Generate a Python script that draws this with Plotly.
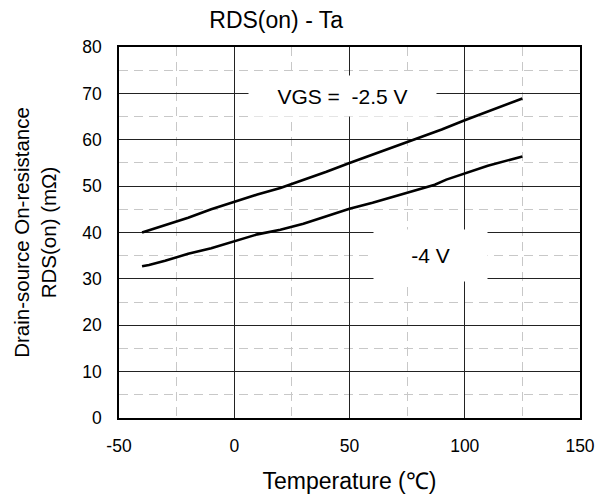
import plotly.graph_objects as go

temp_25 = [-40, -30, -20, -10, 0, 10, 20, 30, 40, 50, 60, 70, 80, 90, 100, 110, 125]
rds_25 = [40.0, 41.6, 43.2, 45.0, 46.6, 48.2, 49.6, 51.3, 53.1, 55.0, 56.8, 58.6, 60.4, 62.2, 64.2, 66.1, 68.9]

temp_4 = [-40, -37, -30, -20, -10, 0, 10, 20, 30, 40, 50, 60, 70, 80, 87, 92, 100, 110, 125]
rds_4 = [32.7, 33.0, 33.9, 35.4, 36.6, 38.1, 39.6, 40.6, 41.9, 43.5, 45.1, 46.4, 47.9, 49.4, 50.3, 51.4, 52.7, 54.4, 56.4]

x_ticks = [-50, 0, 50, 100, 150]
x_labels = ["-50", "0", "50", "100", "150"]
y_ticks = [0, 10, 20, 30, 40, 50, 60, 70, 80]

FONT = "Liberation Sans, Arial, sans-serif"

fig = go.Figure()
fig.add_trace(go.Scatter(x=temp_25, y=rds_25, mode="lines",
                         line=dict(color="black", width=2.6), showlegend=False))
fig.add_trace(go.Scatter(x=temp_4, y=rds_4, mode="lines",
                         line=dict(color="black", width=2.6), showlegend=False))

axis_common = dict(
    showline=True, linecolor="black", linewidth=1.5, mirror=True,
    showgrid=True, gridcolor="#222222", gridwidth=1,
    zeroline=False, ticks="", automargin=False,
    tickfont=dict(family=FONT, size=17.5, color="black"),
)

fig.update_xaxes(range=[-50, 150], tickvals=x_ticks, ticktext=x_labels, **axis_common,
                 minor=dict(dtick=25, showgrid=True, gridcolor="#c8c8c8", griddash="9px,6px", gridwidth=1),
                 title=dict(text="Temperature (℃)", font=dict(family=FONT, size=23, color="black"), standoff=18),
                 ticklabelstandoff=11)
fig.update_yaxes(range=[0, 80], tickvals=y_ticks, **axis_common,
                 minor=dict(dtick=5, showgrid=True, gridcolor="#c8c8c8", griddash="9px,6px", gridwidth=1),
                 title=dict(text="Drain-source On-resistance<br>RDS(on) (mΩ)", font=dict(family=FONT, size=20.5, color="black"), standoff=20),
                 ticklabelstandoff=12)

fig.add_annotation(x=47, y=69.5, xref="x", yref="y", text="VGS =  -2.5 V", showarrow=False,
                   font=dict(family=FONT, size=21, color="black"), bgcolor="white",
                   width=185, height=38)
fig.add_annotation(x=85, y=35, xref="x", yref="y", text="-4 V", showarrow=False,
                   font=dict(family=FONT, size=21, color="black"), bgcolor="white",
                   width=111, height=49)

fig.update_layout(
    width=600, height=491,
    margin=dict(l=111, r=28, t=39, b=81, autoexpand=False),
    paper_bgcolor="white", plot_bgcolor="white",
    title=dict(text="RDS(on) - Ta", x=0.447, xanchor="center", y=0.976, yanchor="middle",
               font=dict(family=FONT, size=23, color="black"), automargin=False),
)

fig.write_html("out.html")
